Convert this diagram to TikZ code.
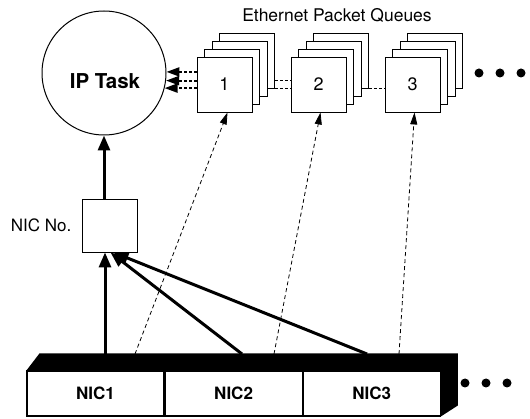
\documentclass[tikz,border=0pt]{standalone}
\usepackage{fontspec}
\setmainfont{TeX Gyre Heros}
\usetikzlibrary{arrows.meta}
\usetikzlibrary{calc}
\newcommand{\pktqueue}[3] % x in pt, y in pt, queue number
{
	% sheets behind, rearmost first
	\node[sheet] (q#3c) at (#1+22.5,#2-24) {};
	\node[sheet] (q#3b) at (#1+15,#2-16) {};
	\node[sheet] (q#3a) at (#1+7.5,#2-8) {};
	% front sheet with the number
	\node[sheet] (q#3) at (#1,#2) {#3};
}
\newcommand{\moredots}[2] % x of first dot, y
{
	\fill (#1,#2) circle (4.5pt);
	\fill (#1+21,#2) circle (4.5pt);
	\fill (#1+42,#2) circle (4.5pt);
}

\begin{document}
\begin{tikzpicture}[x=1pt, y=-1pt,
	sheet/.style={draw, fill=white, line width=0.9pt, minimum width=55, minimum height=55, inner sep=0pt, font=\fontsize{18}{20}\selectfont},
	nicbox/.style={draw, line width=1.1pt, minimum width=137, minimum height=45, inner sep=0pt, font=\bfseries\fontsize{17}{19}\selectfont},
	thickarrow/.style={line width=3pt, -{Triangle[length=15pt,width=12pt]}},
	pollarrow/.style={line width=2pt, dash pattern=on 3pt off 2pt, -{Triangle[length=13pt,width=9pt]}},
	maparrow/.style={line width=0.8pt, dash pattern=on 4pt off 3pt, -{Triangle[length=12pt,width=7pt]}},
	queuelink/.style={line width=1.1pt, dash pattern=on 3pt off 2pt}]
	\useasboundingbox (0,0) rectangle (530,419);

	% IP task
	\node[draw, circle, line width=1pt, minimum size=124] (ip) at (104,73) {};
	\node[font=\bfseries\fontsize{20.5}{22}\selectfont] (iptext) at (105,81) {IP Task};

	% NIC number register
	\node[draw, line width=0.9pt, minimum width=55, minimum height=53] (nicno) at (109.5,225.5) {};
	\node[anchor=east, inner sep=0pt, font=\fontsize{17}{19}\selectfont] (niclabel) at ([xshift=-10pt]nicno.west) {NIC No.};

	% packet queues
	\pktqueue{224.5}{84.5}{1}
	\pktqueue{318.5}{84.5}{2}
	\pktqueue{412.5}{84.5}{3}
	\node[font=\fontsize{17.5}{19}\selectfont] (qtitle) at (337,15) {Ethernet Packet Queues};
	\moredots{479}{73}

	% queues chained together
	\draw[queuelink] ($(q1c.south east)+(0,-8)$) -- ($(q1c.south east -| q2.west)+(0,-8)$);
	\draw[queuelink] (q1c.south east) -- (q1c.south east -| q2.west);
	\draw[queuelink] (q2c.south east) -- (q2c.south east -| q3.west);

	% IP task polls the first queue
	\draw[pollarrow] (q1.west |- ip.1) -- (ip.1);
	\draw[pollarrow] (q1.west |- ip.-7) -- (ip.-7);
	\draw[pollarrow] (q1.west |- ip.-14) -- (ip.-14);

	% NIC board: front face
	\node[nicbox] (nic1) at (95.5,393.5) {NIC1};
	\node[nicbox, anchor=west] (nic2) at (nic1.east) {NIC2};
	\node[nicbox, anchor=west] (nic3) at (nic2.east) {NIC3};
	% top and side faces
	\fill (nic1.north west) -- ++(13,-17) -| ($(nic3.south east)+(17,-11)$) -- (nic3.south east) -- (nic3.north east) -- cycle;
	\moredots{465}{383}

	% points on the top face
	\coordinate (top1) at (105,354);
	\coordinate (top2) at (242,354);
	\coordinate (top3) at (367,354);
	\coordinate (tap1) at (135,354);
	\coordinate (tap2) at (274,354);
	\coordinate (tap3) at (399,354);

	\draw[thickarrow] (top1) -- (top1 |- nicno.south);
	\draw[thickarrow] (top2) -- ([xshift=1pt]nicno.south);
	\draw[thickarrow] (top3) -- ([xshift=4pt]nicno.south);
	\draw[thickarrow] (nicno.north -| ip.south) -- (ip.south);

	\draw[maparrow] (tap1) -- ([xshift=3pt]q1.south);
	\draw[maparrow] (tap2) -- ([xshift=2pt]q2.south);
	\draw[maparrow] (tap3) -- ([xshift=2pt]q3.south);
\end{tikzpicture}
\end{document}
